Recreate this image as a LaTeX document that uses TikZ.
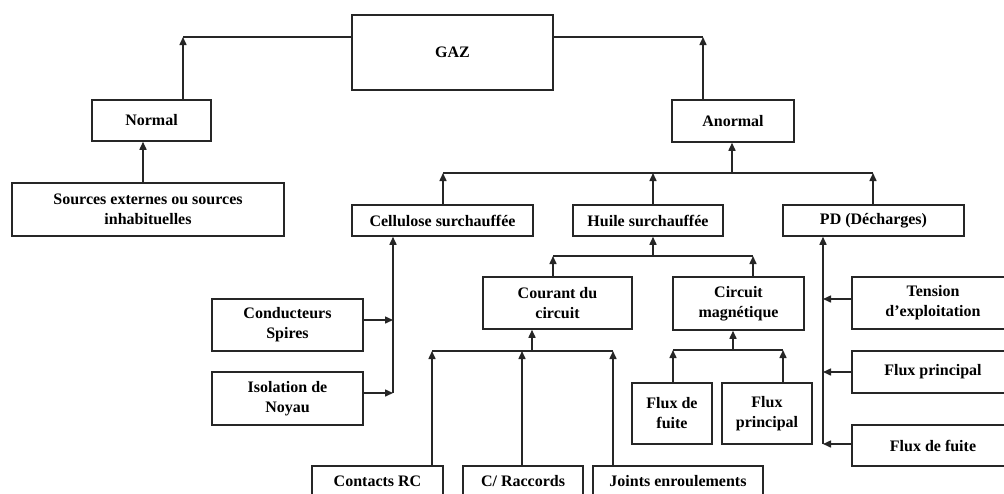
\documentclass[tikz,border=0pt]{standalone}
\usepackage{fontspec}
\setmainfont{Liberation Serif}
\usetikzlibrary{arrows.meta}
\begin{document}
\begin{tikzpicture}[x=1pt,y=-1pt,
  box/.style={draw=black!85, line width=1.5pt, align=center, inner sep=1pt,
    font=\fontsize{16}{20}\selectfont\bfseries, fill=white},
  ln/.style={draw=black!85, line width=1.5pt},
  arr/.style={ln, -{Triangle[length=8pt,width=7pt]}}]
\useasboundingbox (0,0) rectangle (1004,493);
\clip (0,0) rectangle (1004,493);
\fill[white] (0,0) rectangle (1004,493);

% boxes
\node[box, minimum width=201pt, minimum height=75pt] (gaz) at (452.5,52.5) {GAZ};
\node[box, minimum width=119pt, minimum height=41pt] (normal) at (151.5,120.5) {Normal};
\node[box, minimum width=272pt, minimum height=53pt] (sources) at (148,209.5) {Sources externes ou sources\\inhabituelles};
\node[box, minimum width=122pt, minimum height=42pt] (anormal) at (733,121) {Anormal};
\node[box, minimum width=181pt, minimum height=31pt] (cell) at (442.5,220.5) {Cellulose surchauffée};
\node[box, minimum width=150pt, minimum height=31pt] (huile) at (648,220.5) {Huile surchauffée};
\node[box, minimum width=181pt, minimum height=31pt] (pd) at (873.5,220.5) {PD (Décharges)};
\node[box, minimum width=151pt, minimum height=52pt] (cond) at (287.5,325) {Conducteurs\\Spires};
\node[box, minimum width=151pt, minimum height=53pt] (isol) at (287.5,398.5) {Isolation de\\Noyau};
\node[box, minimum width=149pt, minimum height=52pt] (courant) at (557.5,303) {Courant du\\circuit};
\node[box, minimum width=131pt, minimum height=53pt] (circuit) at (738.5,303.5) {Circuit\\magnétique};
\node[box, minimum width=131pt, minimum height=31pt] (contacts) at (377.5,481.5) {Contacts RC};
\node[box, minimum width=120pt, minimum height=31pt] (racc) at (523,481.5) {C/ Raccords};
\node[box, minimum width=170pt, minimum height=31pt] (joints) at (678,481.5) {Joints enroulements};
\node[box, minimum width=80pt, minimum height=61pt] (fluxf) at (672,413.5) {Flux de\\fuite};
\node[box, minimum width=90pt, minimum height=61pt] (fluxp) at (767,413.5) {Flux\\principal};
\node[box, minimum width=162pt, minimum height=52pt] (tension) at (933,303) {Tension\\d'exploitation};
\node[box, minimum width=162pt, minimum height=42pt] (fluxpr) at (933,372) {Flux principal};
\node[box, minimum width=162pt, minimum height=41pt] (fluxfr) at (933,445.5) {Flux de fuite};

% GAZ -> Normal / Anormal
\coordinate (c1) at (183,37);
\coordinate (c2) at (703,37);
\draw[ln] (gaz.west |- c1) -- (c1);
\draw[arr] (c1 |- normal.north) -- (c1);
\draw[ln] (gaz.east |- c2) -- (c2);
\draw[arr] (c2 |- anormal.north) -- (c2);

% Sources -> Normal
\coordinate (s1) at (143,0);
\draw[arr] (s1 |- sources.north) -- (s1 |- normal.south);

% Anormal bus
\coordinate (b1l) at (443,173);
\coordinate (b1h) at (653,173);
\coordinate (b1m) at (732,173);
\coordinate (b1r) at (873,173);
\draw[ln] (b1l) -- (b1r);
\draw[arr] (b1m) -- (b1m |- anormal.south);
\draw[arr] (b1l |- cell.north) -- (b1l);
\draw[arr] (b1h |- huile.north) -- (b1h);
\draw[arr] (b1r |- pd.north) -- (b1r);

% Cellulose
\coordinate (v1a) at (393,320);
\coordinate (v1b) at (393,393);
\draw[arr] (v1b) -- (v1b |- cell.south);
\draw[arr] (cond.east |- v1a) -- (v1a);
\draw[arr] (isol.east |- v1b) -- (v1b);

% Huile
\coordinate (b2l) at (553,256);
\coordinate (b2m) at (653,256);
\coordinate (b2r) at (753,256);
\draw[ln] (b2l) -- (b2r);
\draw[arr] (b2m) -- (b2m |- huile.south);
\draw[arr] (b2l |- courant.north) -- (b2l);
\draw[arr] (b2r |- circuit.north) -- (b2r);

% Courant
\coordinate (b3l) at (432,351);
\coordinate (b3c) at (522,351);
\coordinate (b3m) at (532,351);
\coordinate (b3r) at (613,351);
\draw[ln] (b3l) -- (b3r);
\draw[arr] (b3m) -- (b3m |- courant.south);
\draw[arr] (b3l |- contacts.north) -- (b3l);
\draw[arr] (b3c |- racc.north) -- (b3c);
\draw[arr] (b3r |- joints.north) -- (b3r);

% Circuit
\coordinate (b4l) at (673,350);
\coordinate (b4m) at (733,350);
\coordinate (b4r) at (783,350);
\draw[ln] (b4l) -- (b4r);
\draw[arr] (b4m) -- (b4m |- circuit.south);
\draw[arr] (b4l |- fluxf.north) -- (b4l);
\draw[arr] (b4r |- fluxp.north) -- (b4r);

% PD
\coordinate (v2a) at (823,299);
\coordinate (v2b) at (823,372);
\coordinate (v2c) at (823,444);
\draw[arr] (v2c) -- (v2c |- pd.south);
\draw[arr] (tension.west |- v2a) -- (v2a);
\draw[arr] (fluxpr.west |- v2b) -- (v2b);
\draw[arr] (fluxfr.west |- v2c) -- (v2c);
\end{tikzpicture}
\end{document}
